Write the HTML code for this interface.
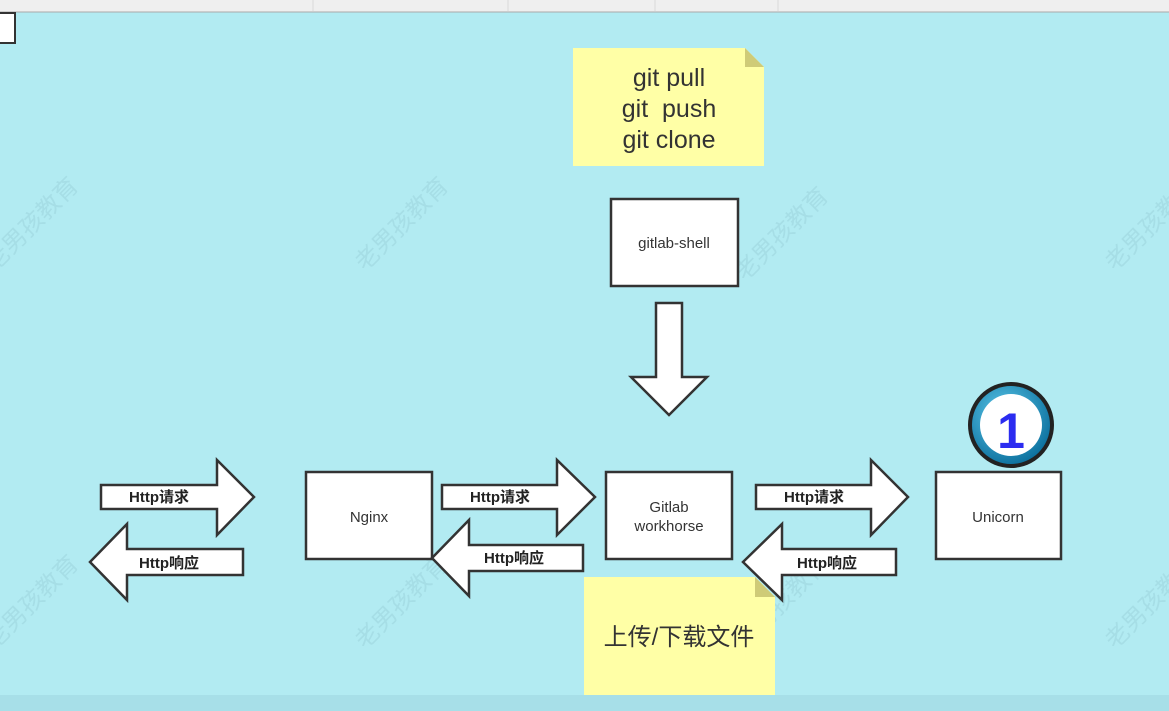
<!DOCTYPE html>
<html><head><meta charset="utf-8"><style>
html,body{margin:0;padding:0;width:1169px;height:711px;overflow:hidden;background:#b2ebf2}
svg{display:block}
text{font-family:"Liberation Sans","Noto Sans CJK SC",sans-serif;fill:#333}
</style></head><body>
<svg width="1169" height="711" viewBox="0 0 1169 711" xmlns="http://www.w3.org/2000/svg">
<rect x="0" y="0" width="1169" height="711" fill="#b2ebf2"/>
<rect x="0" y="0" width="1169" height="12" fill="#efefef"/>
<line x1="0" y1="12" x2="1169" y2="12" stroke="#aaa" stroke-width="1"/>
<g stroke="#d8d8d8"><line x1="313" y1="0" x2="313" y2="11"/><line x1="508" y1="0" x2="508" y2="11"/><line x1="655" y1="0" x2="655" y2="11"/><line x1="778" y1="0" x2="778" y2="11"/></g>
<rect x="-2" y="13" width="17" height="30" fill="#fff" stroke="#333" stroke-width="2"/>
<rect x="0" y="695" width="1169" height="16" fill="#a7dfe8"/>

<!-- watermarks -->
<g font-size="24">
<text x="0" y="0" transform="translate(365,272) rotate(-45)" style="fill:#a6dee6">老男孩教育</text>
<text x="0" y="0" transform="translate(745,282) rotate(-45)" style="fill:#a6dee6">老男孩教育</text>
<text x="0" y="0" transform="translate(1115,272) rotate(-45)" style="fill:#a6dee6">老男孩教育</text>
<text x="0" y="0" transform="translate(-5,272) rotate(-45)" style="fill:#a6dee6">老男孩教育</text>
<text x="0" y="0" transform="translate(365,650) rotate(-45)" style="fill:#a6dee6">老男孩教育</text>
<text x="0" y="0" transform="translate(745,650) rotate(-45)" style="fill:#a6dee6">老男孩教育</text>
<text x="0" y="0" transform="translate(1115,650) rotate(-45)" style="fill:#a6dee6">老男孩教育</text>
<text x="0" y="0" transform="translate(-5,650) rotate(-45)" style="fill:#a6dee6">老男孩教育</text>
</g>

<!-- top note -->
<polygon points="573,48 745,48 764,67 764,166 573,166" fill="#ffffa6"/>
<polygon points="745,48 764,67 745,67" fill="#cfcb77"/>
<text x="669" y="86" font-size="25" text-anchor="middle">git pull</text>
<text x="669" y="117" font-size="25" text-anchor="middle" xml:space="preserve">git  push</text>
<text x="669" y="148" font-size="25" text-anchor="middle">git clone</text>

<!-- bottom note -->
<polygon points="584,577 755,577 775,597 775,695 584,695" fill="#ffffa6"/>
<polygon points="755,577 775,597 755,597" fill="#cfcb77"/>
<text x="679" y="645" font-size="24" text-anchor="middle">上传/下载文件</text>

<g fill="#fff" stroke="#333" stroke-width="2.5" stroke-linejoin="miter">
<rect x="611" y="199" width="127" height="87"/>
<rect x="306" y="472" width="126" height="87"/>
<rect x="606" y="472" width="126" height="87"/>
<rect x="936" y="472" width="125" height="87"/>
<polygon points="656,303 682,303 682,377 707,377 669,415 631,377 656,377"/>
<polygon points="101,485 217,485 217,460 254,497 217,535 217,509 101,509"/>
<polygon points="90,562 127,524 127,549 243,549 243,575 127,575 127,600"/>
<polygon points="442,485 557,485 557,460 595,497 557,535 557,509 442,509"/>
<polygon points="432,558 469,520 469,545 583,545 583,571 469,571 469,596"/>
<polygon points="756,485 871,485 871,460 908,497 871,535 871,509 756,509"/>
<polygon points="743,562 782,524 782,549 896,549 896,575 782,575 782,600"/>
</g>

<g font-size="15" text-anchor="middle">
<text x="674" y="248">gitlab-shell</text>
<text x="369" y="522">Nginx</text>
<text x="669" y="512">Gitlab</text>
<text x="669" y="531">workhorse</text>
<text x="998" y="522">Unicorn</text>
</g>
<g font-size="15" font-weight="bold" text-anchor="middle">
<text x="159" y="502" style="fill:#222">Http请求</text>
<text x="169" y="568" style="fill:#222">Http响应</text>
<text x="500" y="502" style="fill:#222">Http请求</text>
<text x="514" y="563" style="fill:#222">Http响应</text>
<text x="814" y="502" style="fill:#222">Http请求</text>
<text x="827" y="568" style="fill:#222">Http响应</text>
</g>

<!-- badge -->
<defs><radialGradient id="g" cx="0.4" cy="0.35" r="0.7"><stop offset="0" stop-color="#5cc8ea"/><stop offset="1" stop-color="#0a6e9c"/></radialGradient></defs>
<circle cx="1011" cy="425" r="43" fill="#222"/>
<circle cx="1011" cy="425" r="39" fill="url(#g)"/>
<circle cx="1011" cy="425" r="31" fill="#fff"/>
<text x="1011" y="448" font-size="50" font-weight="bold" text-anchor="middle" style="fill:#2b2cf0">1</text>
</svg>
</body></html>
